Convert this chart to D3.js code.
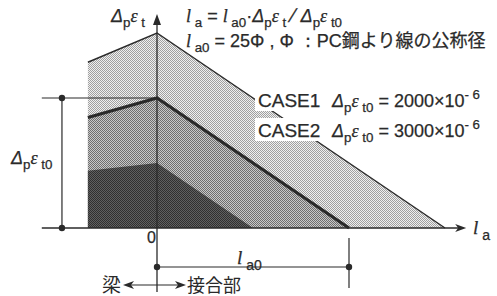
<!DOCTYPE html>
<html><head><meta charset="utf-8">
<script src="https://cdn.jsdelivr.net/npm/d3@7"></script>
<style>body{margin:0;background:#fff}svg{display:block}</style>
</head><body>
<svg id="c" width="497" height="296"></svg>
<script>
// ---- data (x in units of l_a0, y in ×10^-6 strain) ----
const outerLine = [[-0.36, 2550], [0, 3000], [1.5, 0]];   // Δpεt envelope
const case1Line = [[-0.36, 1700], [0, 2000], [1.0, 0]];   // CASE1 (thick)
const innerLine = [[-0.36, 880],  [0, 1000], [0.5, 0]];   // inner region
const caseNames = ["CASE1", "CASE2"];
const caseValues = ["2000", "3000"];
const refLevel = 2000;      // Δpεt0 marked on left
const la0 = 1;              // anchorage length l_a0
const zeroLabel = "0";

const svg = d3.select("#c");
const x = d3.scaleLinear().domain([0, 1]).range([157, 349]);
const y = d3.scaleLinear().domain([0, 3000]).range([228, 33]);
const ink = "#2a2a2a";
const sans = "'Liberation Sans', Arial, sans-serif";
const serif = "'Liberation Serif', 'Times New Roman', serif";
const jp = "'Noto Sans CJK JP', sans-serif";

// patterns
const defs = svg.append("defs");
function pat(id, bg, fg) {
  const p = defs.append("pattern").attr("id", id).attr("width", 2).attr("height", 2)
    .attr("patternUnits", "userSpaceOnUse");
  p.append("rect").attr("width", 2).attr("height", 2).attr("fill", bg);
  p.append("rect").attr("width", 1).attr("height", 1).attr("fill", fg);
  p.append("rect").attr("x", 1).attr("y", 1).attr("width", 1).attr("height", 1).attr("fill", fg);
}
pat("pLight", "#f0f0f0", "#a0a0a0");
pat("pMid", "#c8c8c8", "#6e6e6e");
pat("pDark", "#606060", "#303030");

const area = d3.area().x(d => x(d[0])).y0(y(0)).y1(d => y(d[1]));
const line = d3.line().x(d => x(d[0])).y(d => y(d[1]));

svg.append("path").datum(outerLine).attr("d", area).attr("fill", "url(#pLight)");
svg.append("path").datum(case1Line).attr("d", area).attr("fill", "url(#pMid)");
svg.append("path").datum(innerLine).attr("d", area).attr("fill", "url(#pDark)");

svg.append("path").datum(outerLine).attr("d", line).attr("fill", "none")
  .attr("stroke", ink).attr("stroke-width", 1.4);
svg.append("path").datum(case1Line).attr("d", line).attr("fill", "none")
  .attr("stroke", ink).attr("stroke-width", 3.2);

// axes
const xLeft = x(-0.6), xRight = x(1.6);
svg.append("line").attr("x1", xLeft).attr("x2", xRight - 4).attr("y1", y(0)).attr("y2", y(0))
  .attr("stroke", ink).attr("stroke-width", 1.3);
svg.append("path").attr("d", `M${xRight + 2},${y(0)} L${xRight - 9},${y(0) - 4} L${xRight - 6},${y(0)} L${xRight - 9},${y(0) + 4} Z`).attr("fill", ink);
svg.append("line").attr("x1", x(0)).attr("x2", x(0)).attr("y1", 292).attr("y2", 20)
  .attr("stroke", ink).attr("stroke-width", 1.3);
svg.append("path").attr("d", `M${x(0)},14 L${x(0) - 4},25 L${x(0) + 4},25 Z`).attr("fill", ink);

// left bracket for Δpεt0
const xb = x(-0.495);
svg.append("line").attr("x1", xLeft).attr("x2", x(0)).attr("y1", y(refLevel)).attr("y2", y(refLevel))
  .attr("stroke", ink).attr("stroke-width", 1.2);
svg.append("line").attr("x1", xb).attr("x2", xb).attr("y1", y(refLevel)).attr("y2", y(0))
  .attr("stroke", ink).attr("stroke-width", 1.2);
[[xb, y(refLevel)], [xb, y(0)]].forEach(p =>
  svg.append("circle").attr("cx", p[0]).attr("cy", p[1]).attr("r", 3.2).attr("fill", ink));

// l_a0 dimension
const dimY = 267;
svg.append("line").attr("x1", x(0)).attr("x2", x(la0)).attr("y1", dimY).attr("y2", dimY)
  .attr("stroke", ink).attr("stroke-width", 1.2);
svg.append("line").attr("x1", x(la0)).attr("x2", x(la0)).attr("y1", 238).attr("y2", 288)
  .attr("stroke", ink).attr("stroke-width", 1.2);
[[x(0), dimY], [x(la0), dimY]].forEach(p =>
  svg.append("circle").attr("cx", p[0]).attr("cy", p[1]).attr("r", 3.2).attr("fill", ink));

// 梁 <-> 接合部 arrow
const ay = 285;
svg.append("line").attr("x1", 130).attr("x2", 180).attr("y1", ay).attr("y2", ay).attr("stroke", ink).attr("stroke-width", 1.2);
svg.append("path").attr("d", `M123,${ay} L134,${ay - 4} L131,${ay} L134,${ay + 4} Z`).attr("fill", ink);
svg.append("path").attr("d", `M186,${ay} L175,${ay - 4} L178,${ay} L175,${ay + 4} Z`).attr("fill", ink);

// white bands behind CASE text
svg.append("rect").attr("x", 255).attr("y", 89).attr("width", 242).attr("height", 22).attr("fill", "#fff");
svg.append("rect").attr("x", 255).attr("y", 118).attr("width", 242).attr("height", 23).attr("fill", "#fff");

// rich text helper
function rich(xp, yp, parts, size, anchor) {
  const t = svg.append("text").attr("x", xp).attr("y", yp).attr("font-size", size)
    .attr("font-family", sans).attr("fill", ink).attr("stroke", ink).attr("stroke-width", 0.25)
    .attr("text-anchor", anchor || "start");
  let shift = 0;
  parts.forEach(p => {
    const ts = t.append("tspan").text(p.t);
    const target = p.sub ? size * 0.3 : p.sup ? -size * 0.42 : 0;
    ts.attr("dy", target - shift); shift = target;
    if (p.sub || p.sup) ts.attr("font-size", size * 0.74);
    if (p.i) ts.attr("font-style", "italic");
    if (p.f) ts.attr("font-family", p.f);
    if (p.fs) ts.attr("font-size", p.fs);
  });
  return t;
}
const L = () => ({t: "l", i: true, f: serif});
const dpe = (sub) => [{t: "Δ", i: true}, {t: "p", sub: true}, {t: "ε", i: true, f: serif}, {t: " " + sub, sub: true}];

// axis labels
rich(111, 22, dpe("t"), 18);
rich(473, 234, [L(), {t: " a", sub: true}], 19);
rich(11, 164, dpe("t0"), 18);
rich(147, 243, [{t: zeroLabel}], 16);
rich(237, 264, [L(), {t: " a0", sub: true}], 19);

// titles
rich(186, 22, [L(), {t: " a", sub: true}, {t: " = "}, L(), {t: " a0", sub: true}, {t: "·"}]
  .concat(dpe("t")).concat([{t: " ∕ ", fs: 20}]).concat(dpe("t0")), 18);
rich(186, 47, [L(), {t: " a0", sub: true}, {t: " = 25Φ , Φ ："}, {t: "PC"}, {t: "鋼より線の公称径", f: jp}], 18);

// CASE lines
caseNames.forEach((n, i) => {
  const yy = 107 + i * 30;
  rich(258, yy, [{t: n}], 19);
  rich(332, yy, dpe("t0").concat([{t: " = " + caseValues[i] + "×10"}, {t: "- 6", sup: true}]), 18);
});

// 梁 / 接合部
svg.append("text").attr("x", 102).attr("y", 292).attr("font-size", 19).attr("font-family", jp)
  .attr("fill", ink).text("梁");
svg.append("text").attr("x", 187).attr("y", 292).attr("font-size", 18).attr("font-family", jp)
  .attr("fill", ink).text("接合部");
</script>
</body></html>
